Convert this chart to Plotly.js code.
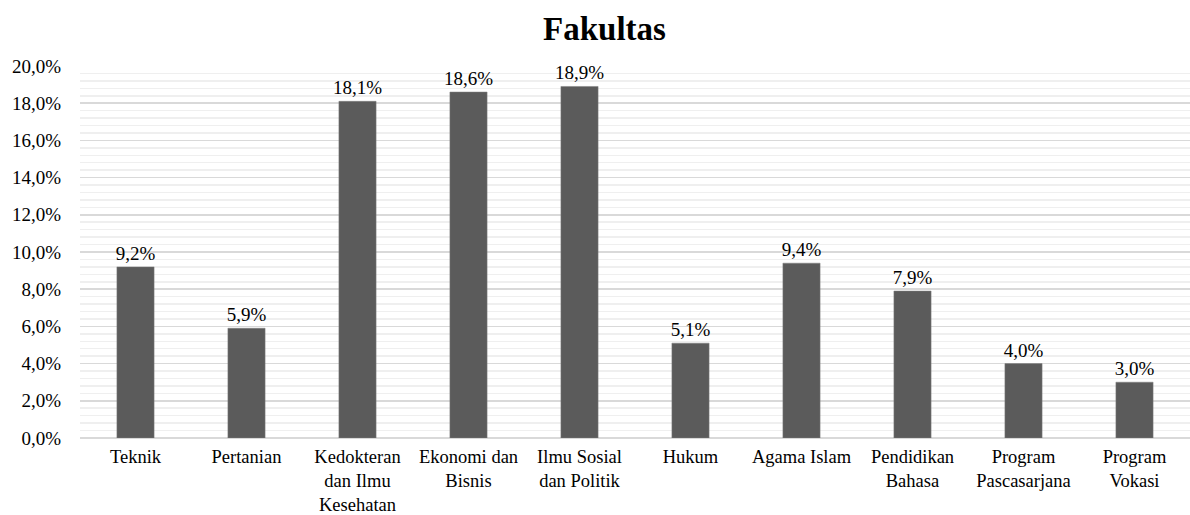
<!DOCTYPE html>
<html>
<head>
<meta charset="utf-8">
<script src="https://cdn.plot.ly/plotly-3.0.1.min.js"></script>
<style>html,body{margin:0;padding:0;background:#fff;}#chart{width:1190px;height:515px;}</style>
</head>
<body>
<div id="chart"></div>
<script>
const categories = ["Teknik", "Pertanian", "Kedokteran<br>dan Ilmu<br>Kesehatan", "Ekonomi dan<br>Bisnis", "Ilmu Sosial<br>dan Politik", "Hukum", "Agama Islam", "Pendidikan<br>Bahasa", "Program<br>Pascasarjana", "Program<br>Vokasi"];
const values = [9.2, 5.9, 18.1, 18.6, 18.9, 5.1, 9.4, 7.9, 4.0, 3.0];
const tickVals = [0, 2, 4, 6, 8, 10, 12, 14, 16, 18, 20];
const tickText = tickVals.map(v => v.toFixed(1).replace('.', ',') + '%');
const labels = values.map(v => v.toFixed(1).replace('.', ',') + '%');

const font = "Liberation Serif, Times New Roman, serif";

Plotly.newPlot('chart', [{
  type: 'bar',
  x: categories,
  y: values,
  text: labels,
  textposition: 'outside',
  constraintext: 'none',
  cliponaxis: false,
  textfont: {family: font, size: 19, color: '#000'},
  marker: {color: '#5b5b5b', line: {color: '#7f7f7f', width: 0.5}},
  width: 0.335,
  hoverinfo: 'none'
}], {
  width: 1190, height: 515,
  margin: {l: 80, r: 0, t: 66, b: 77},
  paper_bgcolor: '#fff', plot_bgcolor: '#fff',
  title: {text: '<b>Fakultas</b>', x: 0.508, xanchor: 'center', y: 0.945, yanchor: 'middle', font: {family: font, size: 33, color: '#000'}},
  showlegend: false,
  bargap: 0.665,
  xaxis: {
    tickfont: {family: font, size: 18.5, color: '#000'},
    showgrid: false, zeroline: false, showline: false,
    ticks: 'outside', ticklen: 2, tickcolor: 'rgba(0,0,0,0)',
    fixedrange: true
  },
  yaxis: {
    range: [0, 20],
    tickvals: tickVals, ticktext: tickText,
    tickfont: {family: font, size: 19, color: '#000'},
    showgrid: true, gridcolor: '#d9d9d9', gridwidth: 1.5,
    minor: {dtick: 0.4, showgrid: true, gridcolor: '#efefef', gridwidth: 1.5},
    zeroline: true, zerolinecolor: '#d9d9d9', zerolinewidth: 1.5,
    ticks: 'outside', ticklen: 14, tickcolor: 'rgba(0,0,0,0)', automargin: false,
    fixedrange: true
  }
}, {staticPlot: true});
</script>
</body>
</html>
